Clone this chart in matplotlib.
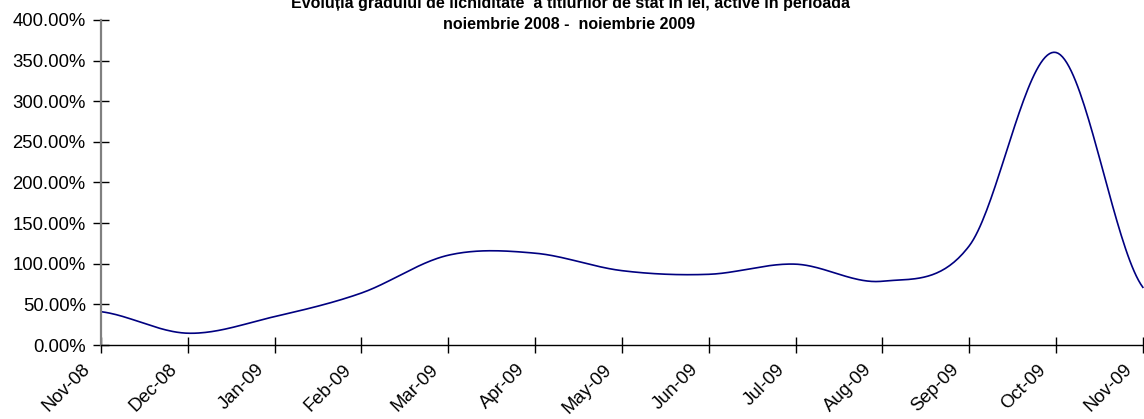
import matplotlib
matplotlib.use('Agg')
import matplotlib.pyplot as plt
import matplotlib.transforms as mtransforms
import numpy as np

plt.rcParams['font.family'] = ['Liberation Sans', 'DejaVu Sans']

months = ['Nov-08', 'Dec-08', 'Jan-09', 'Feb-09', 'Mar-09', 'Apr-09', 'May-09',
          'Jun-09', 'Jul-09', 'Aug-09', 'Sep-09', 'Oct-09', 'Nov-09']
# grad de lichiditate, in %
liquidity = [41.0, 14.5, 35.0, 64.0, 110.5, 113.0, 91.5,
             87.0, 99.5, 78.5, 122.0, 360.0, 71.0]
y_ticks = [0, 50, 100, 150, 200, 250, 300, 350, 400]

title_1 = 'Evoluția gradului de lichiditate  a titlurilor de stat în lei, active în perioada'
title_2 = 'noiembrie 2008 -  noiembrie 2009'


def smooth_line(y, steps=40):
    """Catmull-Rom curve through the points, like a smoothed Excel line."""
    y = np.asarray(y, dtype=float)
    n = len(y)
    tang = np.empty(n)
    tang[1:-1] = (y[2:] - y[:-2]) / 2
    tang[0] = (y[1] - y[0]) / 2
    tang[-1] = (y[-1] - y[-2]) / 2
    xs, ys = [], []
    t = np.linspace(0, 1, steps, endpoint=False)
    h00 = 2 * t**3 - 3 * t**2 + 1
    h10 = t**3 - 2 * t**2 + t
    h01 = -2 * t**3 + 3 * t**2
    h11 = t**3 - t**2
    for i in range(n - 1):
        xs.append(i + t)
        ys.append(h00 * y[i] + h10 * tang[i] + h01 * y[i + 1] + h11 * tang[i + 1])
    xs.append([n - 1])
    ys.append([y[-1]])
    return np.concatenate(xs), np.concatenate(ys)


fig = plt.figure(figsize=(11.44, 4.19), dpi=100)
ax = fig.add_axes([0.0883, 0.1766, 0.9107, 0.7757])

sx, sy = smooth_line(liquidity)
ax.plot(sx, sy, color='#000080', lw=1.2, clip_on=False)

ax.set_xlim(0, len(months) - 1)
ax.set_ylim(0, 400)
ax.set_xticks(range(len(months)))
ax.set_xticklabels(months, rotation=45, ha='right', va='top')
ax.set_yticks(y_ticks)
ax.set_yticklabels([f'{v:.2f}%' for v in y_ticks])

ax.tick_params(axis='both', direction='inout', length=11, width=1,
               color='black', labelsize=13.3)
ax.tick_params(axis='y', pad=5.5)
ax.tick_params(axis='x', pad=6)

# rotated labels sit a little left of their tick, as in the original
shift = mtransforms.ScaledTranslation(-7 / 100, 0, fig.dpi_scale_trans)
for lbl in ax.get_xticklabels():
    lbl.set_transform(lbl.get_transform() + shift)

for side in ['top', 'right']:
    ax.spines[side].set_visible(False)
ax.spines['left'].set_color('#808080')
ax.spines['left'].set_linewidth(1.6)
ax.spines['bottom'].set_color('black')
ax.spines['bottom'].set_linewidth(1.0)

fig.text(0.499, 0.981, title_1, ha='center', va='baseline',
         fontsize=11.5, fontweight='bold')
fig.text(0.497, 0.9296, title_2, ha='center', va='baseline',
         fontsize=11.5, fontweight='bold')

plt.savefig('out.png', dpi=100)
plt.close(fig)
